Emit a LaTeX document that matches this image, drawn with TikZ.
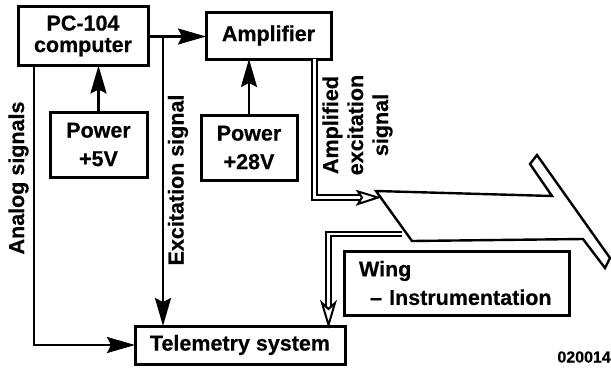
\documentclass[tikz,border=0pt]{standalone}
\usepackage{fontspec}
\setmainfont[BoldFeatures={FakeBold=0.5}]{Liberation Sans}
\usetikzlibrary{arrows.meta,calc}
\tikzset{
  boxnode/.style={draw=black,line width=3pt,fill=white,inner sep=0pt,outer sep=0pt,align=center,font=\fontsize{21.5}{21.5}\selectfont\bfseries},
  lab/.style={inner sep=0pt,outer sep=0pt,align=center,rotate=90,font=\fontsize{21.5}{25}\selectfont\bfseries},
  sig/.style={line width=2.3pt,-{Stealth[length=28pt,width=16pt,inset=4pt]}},
  dbl/.style={line width=2pt,double=white,double distance=2.8pt},
  wing/.style={line width=2.4pt,line join=miter},
  openhead/.style={draw=black,fill=white,line width=2pt,line join=miter}
}
\begin{document}
\begin{tikzpicture}[x=1pt,y=-1pt]
\useasboundingbox (0,0) rectangle (611,368);
\fill[white] (0,0) rectangle (611,368);
% boxes
\node[boxnode,minimum width=130pt,minimum height=59pt] (pc) at (83,36) {PC-104\\[0pt]computer};
\node[boxnode,minimum width=125pt,minimum height=47pt] (amp) at (268.5,35.5) {Amplifier};
\node[boxnode,minimum width=97pt,minimum height=65pt] (pfive) at (98.5,144.5) {Power\\[7pt]+5V};
\node[boxnode,minimum width=96pt,minimum height=65pt] (ptwo) at (249,147.5) {Power\\[7pt]+28V};
\node[boxnode,minimum width=210pt,minimum height=38pt] (tel) at (240,345) {Telemetry system};
\node[boxnode,minimum width=225pt,minimum height=64pt,align=left,text width=195pt] (wbox) at (456.5,283) {Wing\\[7pt]\hspace*{11pt}– Instrumentation};
% wing outline
\coordinate (w1) at (376,191);
\coordinate (w2) at (552,196);
\coordinate (w3) at (530,164);
\coordinate (w4) at (537,155);
\coordinate (w5) at (610,258);
\coordinate (w6) at (605,268);
\coordinate (w7) at (583,239);
\coordinate (w8) at (412,241);
\draw[wing] (w1) -- (w2) -- (w3) -- (w4) -- (w5) -- (w6) -- (w7) -- (w8) -- cycle;
% single connectors
\coordinate (jx) at (163,36.5);
\draw[sig] (pc.east |- jx) -- (amp.west |- jx);
\draw[sig] (jx) -- (jx |- tel.north);
\draw[sig] ([xshift=16pt]pc.south west) |- (tel.west);
\draw[sig] (pfive.north) -- (pfive.north |- pc.south);
\draw[sig] (ptwo.north) -- (ptwo.north |- amp.south);
% double connectors
\coordinate (ampout) at (314.5,59);
\coordinate (headA) at (361,197.5);
\draw[dbl] (ampout) |- (headA);
\draw[openhead] (358,191.5) -- (378,197.5) -- (358,204) -- (362,197.5) -- cycle;
\coordinate (wingout) at (402,234);
\coordinate (headB) at (328.5,306);
\draw[dbl] (wingout) -| (headB);
\draw[openhead] (322,303) -- (328.5,325) -- (335,303) -- (328.5,309) -- cycle;
% labels
\node[lab] (lanalog) at (18.5,178) {Analog signals};
\node[lab] (lexc) at (178,180) {Excitation signal};
\node[lab] (lamp) at (357.5,125) {Amplified\\excitation\\signal};
\node[inner sep=0pt,anchor=east,font=\fontsize{16}{16}\selectfont\bfseries] (code) at (611,357) {020014};
\end{tikzpicture}
\end{document}
